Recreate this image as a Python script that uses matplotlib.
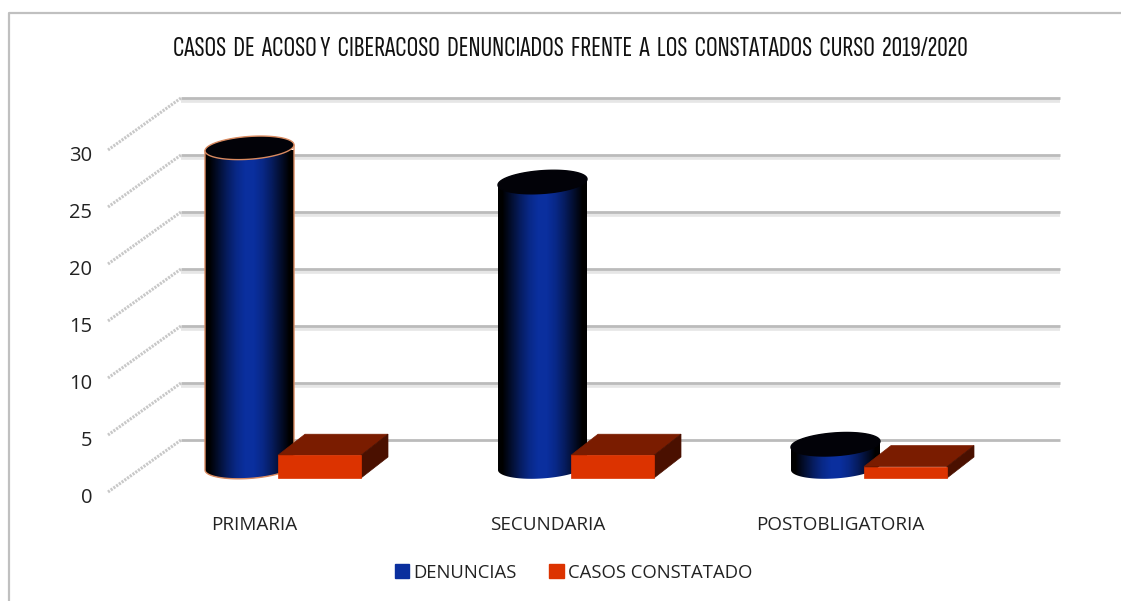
import numpy as np
import matplotlib
matplotlib.use("Agg")
import matplotlib.pyplot as plt
from matplotlib import font_manager
from matplotlib.lines import Line2D
from matplotlib.patches import Patch, Polygon
from matplotlib.transforms import ScaledTranslation

categories = ["PRIMARIA", "SECUNDARIA", "POSTOBLIGATORIA"]
denuncias = [28, 25, 2]
casos = [2, 2, 1]
y_ticks = [0, 5, 10, 15, 20, 25, 30]
series_names = ["DENUNCIAS", "CASOS CONSTATADO"]
title = "CASOS  DE  ACOSO Y  CIBERACOSO  DENUNCIADOS  FRENTE  A  LOS  CONSTATADOS  CURSO  2019/2020"

W, H = 1121, 601
BLUE = "#0a2f9e"
RED = "#dc3300"
RED_TOP = "#7a1c00"
RED_SIDE = "#4a1000"
TITLE_FONT = "Sofia Sans Extra Condensed"
# depth of the fake 3d box, in data units
DEPTH_X = 73 / 293
DEPTH_Y = 52 / 11.4

plt.rcParams["font.family"] = ["Open Sans", "DejaVu Sans"]


def draw_walls(ax):
    x0, x1 = ax.get_xlim()
    for v in y_ticks:
        ax.plot([x0, x0 + DEPTH_X], [v, v + DEPTH_Y], color="#c8c8c8", lw=2.2,
                ls=(0, (0.7, 0.4)), clip_on=False, zorder=1)
        if v > 0:
            ax.plot([x0 + DEPTH_X, x1 + DEPTH_X], [v + DEPTH_Y - 0.22] * 2, color="#e6e6e6",
                    lw=2.6, clip_on=False, zorder=1, solid_capstyle="butt")
        ax.plot([x0 + DEPTH_X, x1 + DEPTH_X], [v + DEPTH_Y] * 2, color="#bbbbbb",
                lw=2, clip_on=False, zorder=1.5, solid_capstyle="butt")


def draw_cylinder(ax, xc, value, edge):
    half_w = 44.5 / 293
    base = 2.19
    b = 1.0
    k = 0.26
    t = np.linspace(0, 2 * np.pi, 120)
    ex = half_w * np.cos(t)
    ey = b * np.sin(t) + k * np.cos(t)
    top = base + value

    lower = t[(t >= np.pi) & (t <= 2 * np.pi)]
    lx = half_w * np.cos(lower)
    ly = b * np.sin(lower) + k * np.cos(lower)
    body = np.vstack([
        np.column_stack([xc + lx, base + ly]),
        [[xc + half_w, top + k], [xc - half_w, top - k]],
    ])
    clip = Polygon(body, closed=True, transform=ax.transData, fc="none", ec="none", clip_on=False)
    ax.add_patch(clip)
    shade = np.array([[0.0, 0.3, 0.6, 0.85, 1.0, 1.0, 0.85, 0.6, 0.3, 0.0]])
    cmap = matplotlib.colors.LinearSegmentedColormap.from_list("cyl", ["#000000", BLUE])
    im = ax.imshow(shade, cmap=cmap, vmin=0, vmax=1, aspect="auto", interpolation="bilinear",
                   extent=[xc - half_w, xc + half_w, base - 2, top + 2], zorder=3)
    im.set_clip_path(clip)
    if edge:
        ax.add_patch(Polygon(body, closed=True, fc="none", ec=edge, lw=1, zorder=3.1, clip_on=False))
    ax.add_patch(Polygon(np.column_stack([xc + ex, top + ey]), closed=True, fc="#020208",
                         ec=edge if edge else "#020208", lw=1, zorder=3.2, clip_on=False))


def draw_box(ax, xc, value):
    half_w = 41.5 / 293
    dx = 27 / 293
    dy = 21 / 11.4
    y0 = 14 / 11.4
    y1 = y0 + value
    l, r = xc - half_w, xc + half_w
    ax.add_patch(Polygon([[l, y1], [r, y1], [r + dx, y1 + dy], [l + dx, y1 + dy]],
                         fc=RED_TOP, ec=RED_TOP, lw=0.5, zorder=4))
    ax.add_patch(Polygon([[r, y0], [r + dx, y0 + dy], [r + dx, y1 + dy], [r, y1]],
                         fc=RED_SIDE, ec=RED_SIDE, lw=0.5, zorder=4))
    ax.add_patch(Polygon([[l, y0], [r, y0], [r, y1], [l, y1]],
                         fc=RED, ec=RED, lw=0.5, zorder=4.1))


def main():
    fig = plt.figure(figsize=(W / 100, H / 100), dpi=100)
    ax = fig.add_axes([108 / W, 1 - 492 / H, (987 - 108) / W, 342 / H])
    ax.set_xlim(-0.5, 2.5)
    ax.set_ylim(0, 30)
    for s in ax.spines.values():
        s.set_visible(False)
    ax.patch.set_visible(False)

    draw_walls(ax)
    edges = ["#d98a60", None, None]
    for i in range(len(categories)):
        draw_cylinder(ax, i - 5 / 293, denuncias[i], edges[i])
        draw_box(ax, i + 65 / 293, casos[i])
    ax.set_xlim(-0.5, 2.5)
    ax.set_ylim(0, 30)

    ax.set_yticks(y_ticks)
    ax.set_xticks(range(len(categories)))
    ax.set_xticklabels(categories)
    ax.tick_params(axis="y", length=0, pad=11.5, labelsize=14.5, labelcolor="#222222")
    ax.tick_params(axis="x", length=0, pad=17, labelsize=13.6, labelcolor="#222222")
    shift = ScaledTranslation(0, -2.2 / 72, fig.dpi_scale_trans)
    for lab in ax.get_yticklabels():
        lab.set_transform(lab.get_transform() + shift)

    # the narrow family is not on every machine, DejaVu condensed needs a smaller size
    installed = {f.name for f in font_manager.fontManager.ttflist}
    if TITLE_FONT in installed:
        title_style = dict(family=TITLE_FONT, fontsize=21)
    else:
        title_style = dict(family="DejaVu Sans", stretch="condensed", fontsize=12.1)
    fig.text(570.5 / W, 1 - 48.5 / H, title, ha="center", va="center", color="#111111", **title_style)

    handles = [Patch(fc=BLUE, ec=BLUE), Patch(fc=RED, ec=RED)]
    fig.legend(handles, series_names, ncols=2, frameon=False, loc="center",
               bbox_to_anchor=(573.5 / W, 1 - 572.5 / H), fontsize=13.3, handlelength=0.8,
               handleheight=0.8, handletextpad=0.2, columnspacing=1.78, labelcolor="#222222")

    # outer chart border, only top and left are visible in the picture
    fig.add_artist(Line2D([9 / W, 9 / W, 1], [0, 1 - 13 / H, 1 - 13 / H], color="#c0c0c0", lw=1.6))

    fig.savefig("out.png", dpi=100)


if __name__ == "__main__":
    main()
